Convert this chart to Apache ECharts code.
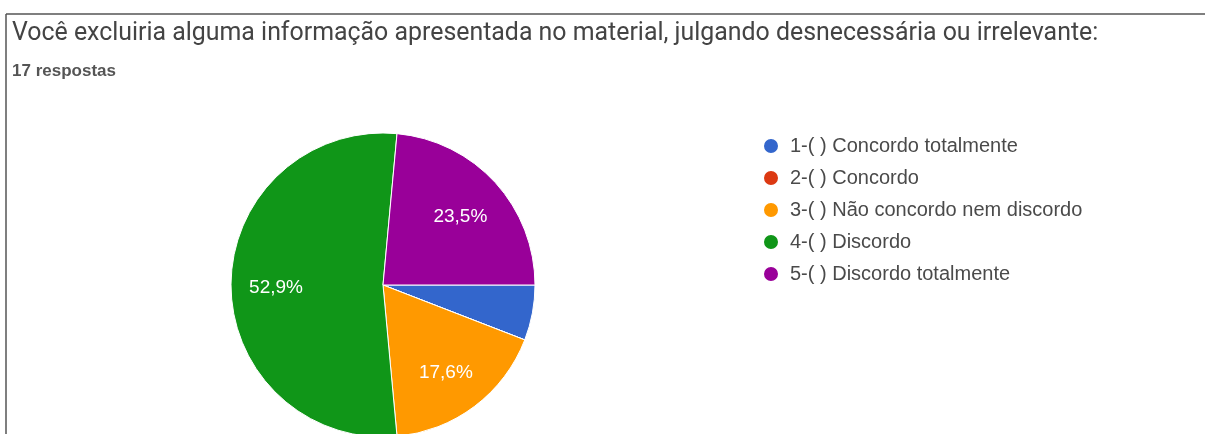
<!DOCTYPE html>
<html>
<head>
<meta charset="utf-8">
<script src="https://cdn.jsdelivr.net/npm/echarts@6/dist/echarts.min.js"></script>
<style>
html,body{margin:0;padding:0;background:#fff;}
#chart{width:1205px;height:434px;}
</style>
</head>
<body>
<div id="chart"></div>
<script>
const titleText = 'Você excluiria alguma informação apresentada no material, julgando desnecessária ou irrelevante:';
const subtitleText = '17 respostas';
const categories = ['1-( ) Concordo totalmente', '2-( ) Concordo', '3-( ) Não concordo nem discordo', '4-( ) Discordo', '5-( ) Discordo totalmente'];
const counts = [1, 0, 3, 9, 4];
const colors = ['#3366cc', '#dc3912', '#ff9900', '#109618', '#990099'];

const total = counts.reduce((a, b) => a + b, 0);
const pieData = categories.map((name, i) => ({ name: name, value: counts[i], itemStyle: { color: colors[i] } }));
const labelData = categories.map((name, i) => ({
  name: name, value: counts[i],
  label: { show: counts[i] / total >= 0.1 }
}));

const chart = echarts.init(document.getElementById('chart'));
chart.setOption({
  animation: false,
  title: [
    { text: titleText, left: 12, top: 21, padding: 0, textStyle: { fontFamily: 'Roboto', fontSize: 24.9, fontWeight: 'normal', color: '#444' } },
    { text: subtitleText, left: 12, top: 63, padding: 0, textStyle: { fontFamily: 'Arial', fontSize: 17, fontWeight: 'bold', color: '#555' } }
  ],
  graphic: [
    { type: 'line', shape: { x1: 6, y1: 14, x2: 1205, y2: 14 }, style: { stroke: '#555', lineWidth: 1.5 } },
    { type: 'line', shape: { x1: 6, y1: 14, x2: 6, y2: 434 }, style: { stroke: '#555', lineWidth: 1.5 } }
  ],
  legend: {
    orient: 'vertical',
    left: 762, top: 136, padding: 0,
    itemWidth: 16, itemHeight: 16, itemGap: 12,
    icon: 'circle',
    data: categories,
    textStyle: { fontFamily: 'Arial', fontSize: 20, lineHeight: 18, color: '#4a4a4a', padding: [0, 0, 0, 6] }
  },
  series: [
    {
      type: 'pie',
      center: [383, 285], radius: [0, 152],
      startAngle: 0, clockwise: true,
      data: pieData,
      label: { show: false }, labelLine: { show: false },
      itemStyle: { borderColor: '#fff', borderWidth: 1 },
      emphasis: { disabled: true }
    },
    {
      type: 'pie',
      center: [382, 288], radius: [0, 206],
      startAngle: 0, clockwise: true,
      silent: true,
      legendHoverLink: false,
      data: labelData,
      itemStyle: { color: 'rgba(0,0,0,0)', borderWidth: 0 },
      label: {
        position: 'inside',
        fontFamily: 'Arial', fontSize: 19, color: '#fff',
        formatter: p => p.percent.toFixed(1).replace('.', ',') + '%'
      },
      labelLine: { show: false },
      emphasis: { disabled: true },
      tooltip: { show: false }
    }
  ]
});
</script>
</body>
</html>
